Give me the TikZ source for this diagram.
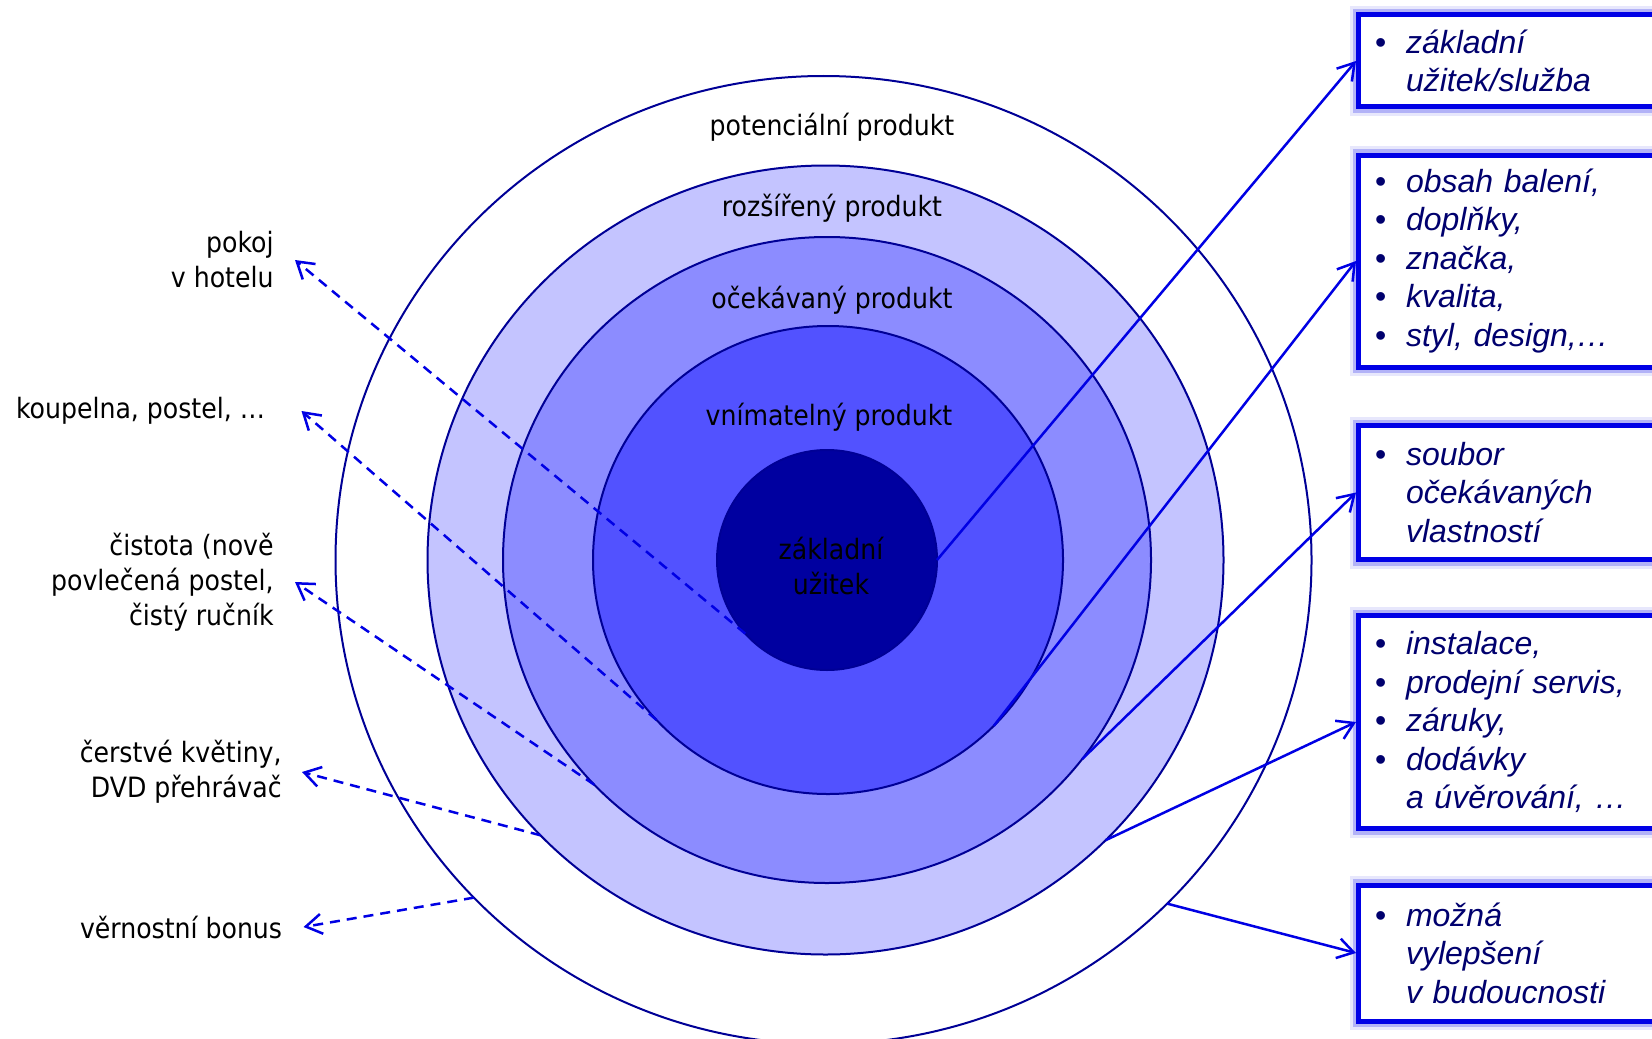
\documentclass[tikz,border=0pt]{standalone}
\usepackage{fontspec}
\setmainfont{DejaVu Sans Condensed}
\newfontfamily\boxfont{Liberation Sans}
\usetikzlibrary{arrows.meta,shapes.geometric}
\definecolor{ringedge}{RGB}{0,0,150}
\definecolor{ringA}{RGB}{196,196,255}
\definecolor{ringB}{RGB}{140,140,255}
\definecolor{ringC}{RGB}{82,82,255}
\definecolor{coreC}{RGB}{0,0,160}
\definecolor{arrowC}{RGB}{0,0,228}
\definecolor{boxedge}{RGB}{0,0,230}
\definecolor{boxtext}{RGB}{0,0,110}
\newcommand\bitem[1]{\makebox[15.45pt][l]{\upshape •}#1}
\newcommand\bcont[1]{\hspace*{15.45pt}#1}
\tikzset{
  ring/.style={ellipse, draw=ringedge, line width=1pt, inner sep=0pt, outer sep=0pt},
  lbl/.style={font=\fontsize{14}{17.5}\selectfont, inner sep=0pt, text=black},
  sidelbl/.style={lbl, anchor=east, align=right},
  infobox/.style={draw=boxedge, line width=2.5pt, fill=white, anchor=west,
    minimum width=190pt, text width=173.4pt, inner xsep=8.3pt, inner ysep=0pt,
    align=left, text=boxtext,
    font=\boxfont\itshape\fontsize{16}{19.25}\selectfont,
    preaction={draw=boxedge!30, line width=9pt, opacity=0.3},
    preaction={draw=boxedge!55, line width=6pt, opacity=0.45}},
  solidarrow/.style={draw=arrowC, line width=1.25pt, -{Straight Barb[length=8pt, width=10pt, line width=1.25pt]}},
  dasharrow/.style={draw=arrowC, line width=1.25pt, dash pattern=on 5pt off 3.5pt, -{Straight Barb[length=8pt, width=10pt, line width=1.25pt]}}
}
\begin{document}
\begin{tikzpicture}[x=0.5pt, y=-0.5pt]
\useasboundingbox (0,0) rectangle (1652,1038);
\clip (0,0) rectangle (1652,1038);
\fill[white] (0,0) rectangle (1652,1038);

% concentric rings
\node[ring, fill=white, minimum width=488pt, minimum height=484pt] (outer) at (823.5,560) {};
\node[ring, fill=ringA, minimum width=398pt, minimum height=394.5pt] (light) at (825.5,560) {};
\node[ring, fill=ringB, minimum width=324pt, minimum height=323pt] (mid) at (827,560) {};
\node[ring, fill=ringC, minimum width=235pt, minimum height=234pt] (inner) at (828,560) {};
\node[ring, fill=coreC, minimum size=110pt] (core) at (827,560) {};

% ring labels
\node[lbl] (lpot) at (832,127) {potenciální produkt};
\node[lbl] (lroz) at (832,208) {rozšířený produkt};
\node[lbl] (locek) at (832,300) {očekávaný produkt};
\node[lbl] (lvnim) at (829,417) {vnímatelný produkt};
\node[lbl, align=center] (lzakl) at (831,566) {základní\\užitek};

% left labels
\node[sidelbl] (pokoj) at (274,260) {pokoj\\v hotelu};
\node[sidelbl] (koup) at (265.5,411) {koupelna, postel, …};
\node[sidelbl] (cist) at (274,582) {čistota (nově\\povlečená postel,\\čistý ručník};
\node[sidelbl] (kvet) at (282,772) {čerstvé květiny,\\DVD přehrávač};
\node[sidelbl] (bonus) at (282.5,927) {věrnostní bonus};

% right boxes
\node[infobox, minimum height=46pt] (b1) at (1356,61)
  {\bitem{základní}\\\bcont{užitek/služba}};
\node[infobox, minimum height=106pt] (b2) at (1356,261)
  {\bitem{obsah balení,}\\\bitem{doplňky,}\\\bitem{značka,}\\\bitem{kvalita,}\\\bitem{styl, design,…}};
\node[infobox, minimum height=67pt] (b3) at (1356,492.5)
  {\bitem{soubor}\\\bcont{očekávaných}\\\bcont{vlastností}};
\node[infobox, minimum height=106.5pt] (b4) at (1356,722)
  {\bitem{instalace,}\\\bitem{prodejní servis,}\\\bitem{záruky,}\\\bitem{dodávky}\\\bcont{a úvěrování, …}};
\node[infobox, minimum height=68pt] (b5) at (1356,953)
  {\bitem{možná}\\\bcont{vylepšení}\\\bcont{v budoucnosti}};

% dashed arrows to the left labels
\draw[dasharrow] (core.222) -- ([xshift=10.5pt]pokoj.east);
\draw[dasharrow] (inner.223.5) -- ([xshift=18pt]koup.east);
\draw[dasharrow] (mid.224.5) -- ([xshift=10.5pt]cist.east);
\draw[dasharrow] (light.224.3) -- ([xshift=10pt]kvet.east);
\draw[dasharrow] (outer.224.2) -- ([xshift=10.5pt]bonus.east);

% solid arrows to the boxes
\draw[solidarrow] (core.east) -- (b1.west);
\draw[solidarrow] (inner.-45.7) -- (b2.west);
\draw[solidarrow] (mid.-38.7) -- (b3.west);
\draw[solidarrow] (light.-45) -- (b4.west);
\draw[solidarrow] (outer.-45) -- (b5.west);
\end{tikzpicture}
\end{document}
